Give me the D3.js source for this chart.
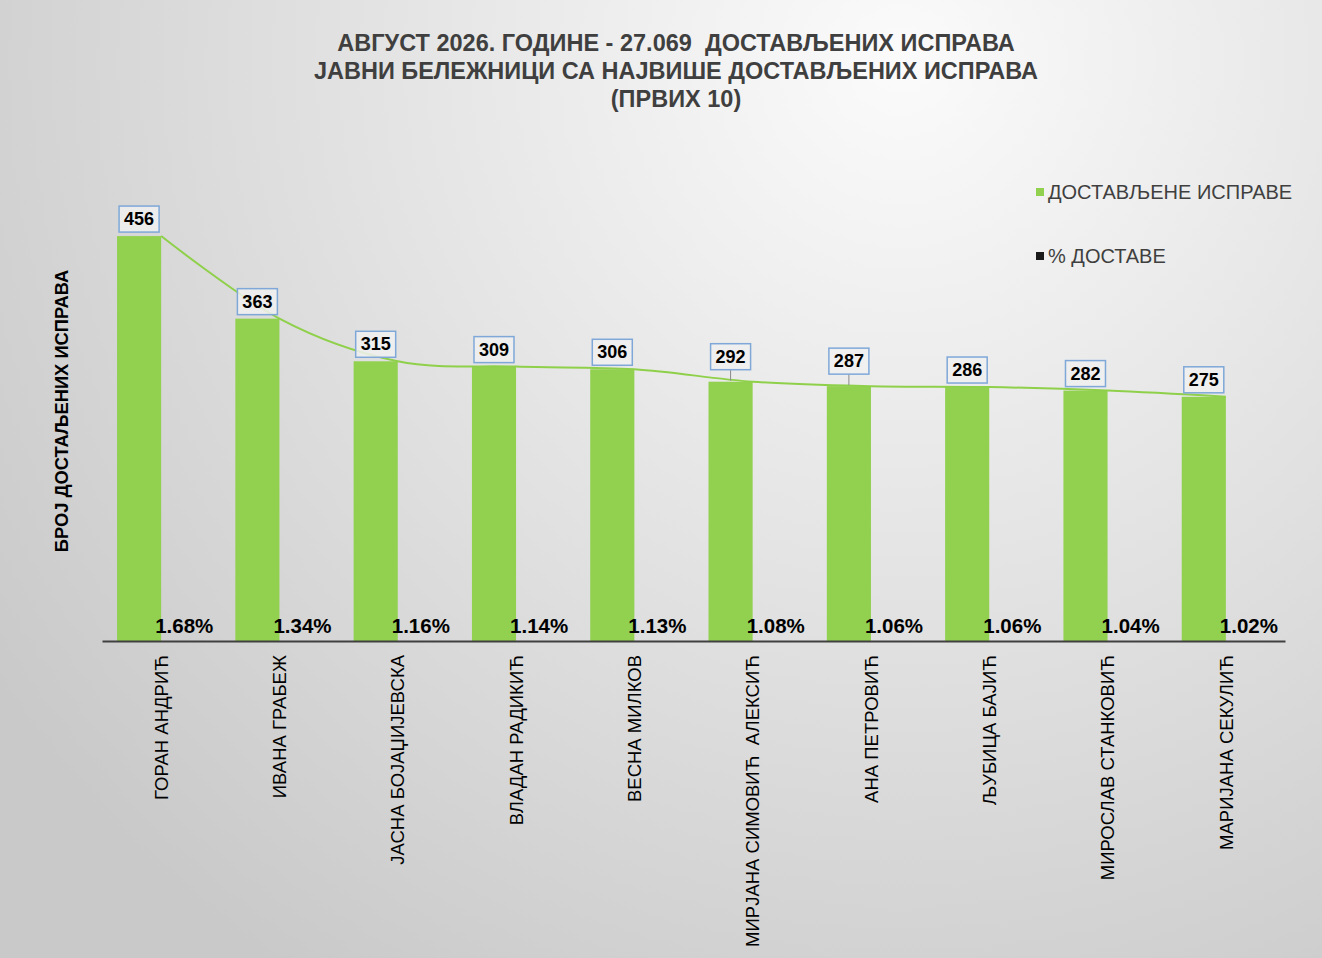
<!DOCTYPE html>
<html>
<head>
<meta charset="utf-8">
<script src="https://cdn.jsdelivr.net/npm/d3@7"></script>
<style>
  html, body { margin: 0; padding: 0; }
  body { font-family: "Liberation Sans", Arial, sans-serif; }
  text { white-space: pre; }
</style>
</head>
<body>
<div id="chart"></div>
<script>
var TITLE_LINES = [
  "АВГУСТ 2026. ГОДИНЕ - 27.069  ДОСТАВЉЕНИХ ИСПРАВА",
  "ЈАВНИ БЕЛЕЖНИЦИ СА НАЈВИШЕ ДОСТАВЉЕНИХ ИСПРАВА",
  "(ПРВИХ 10)"
];
var NAMES = [
  "ГОРАН АНДРИЋ", "ИВАНА ГРАБЕЖ", "ЈАСНА БОЈАЏИЈЕВСКА", "ВЛАДАН РАДИКИЋ",
  "ВЕСНА МИЛКОВ", "МИРЈАНА СИМОВИЋ  АЛЕКСИЋ", "АНА ПЕТРОВИЋ", "ЉУБИЦА БАЈИЋ",
  "МИРОСЛАВ СТАНКОВИЋ", "МАРИЈАНА СЕКУЛИЋ"
];
var DELIVERED = [ 456, 363, 315, 309, 306, 292, 287, 286, 282, 275 ];
var PERCENT = [ 1.68, 1.34, 1.16, 1.14, 1.13, 1.08, 1.06, 1.06, 1.04, 1.02 ];
var SERIES = [ "ДОСТАВЉЕНЕ ИСПРАВЕ", "% ДОСТАВЕ" ];
var Y_TITLE = "БРОЈ ДОСТАЉЕНИХ ИСПРАВА";

var Chart = {
  W: 1322,
  H: 958,
  GREEN: "#92d050",
  TEXT: "#3f3f3f",
  BASE: 641,
  // labels pushed up with a leader line (as in the original workbook)
  LIFTED: [ 5, 6 ],

  svg: null,
  x0: null,
  x1: null,
  y: null,

  build: function(){
    this.svg = d3.select("#chart").append("svg")
      .attr("width", this.W)
      .attr("height", this.H);

    var grad = this.svg.append("defs").append("radialGradient")
      .attr("id", "bg")
      .attr("gradientUnits", "userSpaceOnUse")
      .attr("cx", 900).attr("cy", 60).attr("r", 1100);
    grad.append("stop").attr("offset", "0%").attr("stop-color", "#fbfbfb");
    grad.append("stop").attr("offset", "100%").attr("stop-color", "#c9c9c9");

    this.svg.append("rect")
      .attr("width", this.W).attr("height", this.H)
      .attr("fill", "url(#bg)");
  },

  scales: function(){
    this.x0 = d3.scaleBand().domain(NAMES).range([ 102, 1285 ]);
    var bw = this.x0.bandwidth();
    this.x1 = d3.scaleBand().domain(SERIES).range([ bw * 0.127, bw * 0.873 ]);
    this.y = d3.scaleLinear().domain([ 0, 500 ]).range([ this.BASE, 197 ]);
  },

  titles: function(){
    var that = this;
    this.svg.append("g").selectAll("text")
      .data(TITLE_LINES)
      .enter().append("text")
        .attr("x", 676)
        .attr("y", function(d, i){ return 51 + i * 28; })
        .attr("text-anchor", "middle")
        .style("font-size", "23.5px")
        .style("font-weight", "bold")
        .attr("fill", that.TEXT)
        .text(String);

    this.svg.append("text")
      .attr("transform", "translate(68,411) rotate(-90)")
      .attr("text-anchor", "middle")
      .style("font-size", "18.3px")
      .style("font-weight", "bold")
      .attr("fill", "#000")
      .text(Y_TITLE);
  },

  bars: function(){
    var that = this;
    var groups = this.svg.append("g").selectAll("g")
      .data(NAMES)
      .enter().append("g")
        .attr("transform", function(d){ return "translate(" + that.x0(d) + ",0)"; });

    groups.append("rect")
      .attr("x", this.x1(SERIES[0]))
      .attr("width", this.x1.bandwidth())
      .attr("y", function(d, i){ return that.y(DELIVERED[i]); })
      .attr("height", function(d, i){ return that.BASE - that.y(DELIVERED[i]); })
      .attr("fill", this.GREEN);

    // percentage series sits on the same axis, so it is practically flat
    groups.append("rect")
      .attr("x", this.x1(SERIES[1]))
      .attr("width", this.x1.bandwidth())
      .attr("y", function(d, i){ return that.y(PERCENT[i] / 100); })
      .attr("height", function(d, i){ return that.BASE - that.y(PERCENT[i] / 100); })
      .attr("fill", "#222");

    groups.append("text")
      .attr("x", this.x1(SERIES[1]) + this.x1.bandwidth() / 2 + 1)
      .attr("y", 633)
      .attr("text-anchor", "middle")
      .style("font-size", "20.5px")
      .style("font-weight", "bold")
      .attr("fill", "#000")
      .text(function(d, i){ return PERCENT[i].toFixed(2) + "%"; });
  },

  trend: function(){
    var that = this;
    var cx = function(d, i){ return that.x0(NAMES[i]) + that.x0.bandwidth() / 2; };
    var line = d3.line()
      .x(cx)
      .y(function(d){ return that.y(d); })
      .curve(d3.curveCardinal.tension(0));

    this.svg.append("path")
      .datum(DELIVERED)
      .attr("d", line)
      .attr("fill", "none")
      .attr("stroke", "#8fd04a")
      .attr("stroke-width", 2);
  },

  valueLabels: function(){
    var that = this;
    var lbl = this.svg.append("g").selectAll("g")
      .data(DELIVERED)
      .enter().append("g")
        .attr("transform", function(d, i){
          var cx = that.x0(NAMES[i]) + that.x1(SERIES[0]) + that.x1.bandwidth() / 2;
          var lift = that.LIFTED.indexOf(i) >= 0 ? 12 : 4;
          return "translate(" + cx + "," + (that.y(d) - lift) + ")";
        });

    lbl.filter(function(d, i){ return that.LIFTED.indexOf(i) >= 0; })
      .append("line")
        .attr("x1", 0).attr("x2", 0)
        .attr("y1", 0).attr("y2", 11)
        .attr("stroke", "#8a8a8a")
        .attr("stroke-width", 1);

    lbl.append("rect")
      .attr("x", -20).attr("y", -26)
      .attr("width", 40).attr("height", 26)
      .attr("fill", "rgba(240,240,240,0.85)")
      .attr("stroke", "#7fa8d8")
      .attr("stroke-width", 1.5);

    lbl.append("text")
      .attr("y", -7)
      .attr("text-anchor", "middle")
      .style("font-size", "18px")
      .style("font-weight", "bold")
      .attr("fill", "#000")
      .text(String);
  },

  axis: function(){
    var ax = this.svg.append("g")
      .attr("transform", "translate(0," + this.BASE + ")")
      .call(d3.axisBottom(this.x0).tickSize(0).tickPadding(0));
    ax.select(".domain").attr("stroke", "#404040").attr("stroke-width", 2);
    ax.selectAll(".tick text")
      .attr("transform", "rotate(-90)")
      .attr("x", -14)
      .attr("y", 0)
      .attr("dy", "0.36em")
      .attr("text-anchor", "end")
      .style("font-family", "'Liberation Sans', Arial, sans-serif")
      .style("font-size", "18.5px")
      .style("white-space", "pre")
      .attr("fill", "#000");
  },

  legend: function(){
    var that = this;
    var colors = [ this.GREEN, "#1a1a1a" ];
    var items = this.svg.append("g").selectAll("g")
      .data(SERIES)
      .enter().append("g")
        .attr("transform", function(d, i){ return "translate(1036," + (192 + i * 64) + ")"; });
    items.append("rect")
      .attr("x", 0).attr("y", -4)
      .attr("width", 8).attr("height", 8)
      .attr("fill", function(d, i){ return colors[i]; });
    items.append("text")
      .attr("x", 12)
      .attr("y", 7)
      .style("font-size", "20px")
      .attr("fill", that.TEXT)
      .text(String);
  }
};

Chart.build();
Chart.scales();
Chart.titles();
Chart.bars();
Chart.trend();
Chart.valueLabels();
Chart.axis();
Chart.legend();
</script>
</body>
</html>
